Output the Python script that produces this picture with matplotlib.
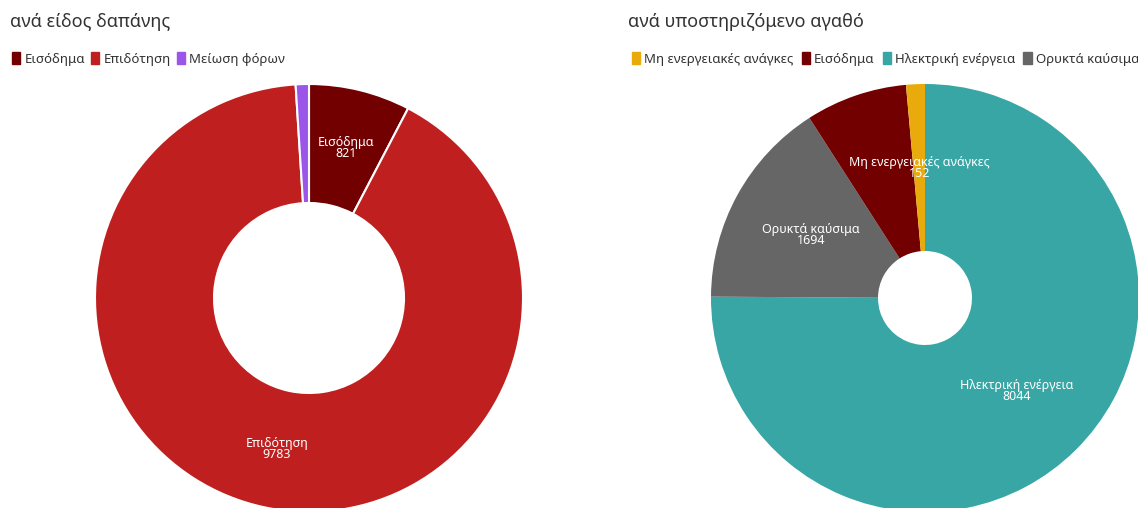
import numpy as np
import matplotlib.pyplot as plt
from matplotlib.patches import Patch

plt.rcParams['font.family'] = ['Noto Sans', 'DejaVu Sans']

# ανά είδος δαπάνης
cat_left = ['Εισόδημα', 'Επιδότηση', 'Μείωση φόρων']
val_left = [821, 9783, 107]
col_left = ['#730000', '#c01f1f', '#9b55e8']
show_left = [True, True, False]

# ανά υποστηριζόμενο αγαθό (σειρά σχεδίασης)
cat_right = ['Ηλεκτρική ενέργεια', 'Ορυκτά καύσιμα', 'Εισόδημα', 'Μη ενεργειακές ανάγκες']
val_right = [8044, 1694, 821, 152]
col_right = ['#38a6a5', '#666666', '#730000', '#e9ab0c']
show_right = [True, True, False, True]
legend_right = ['Μη ενεργειακές ανάγκες', 'Εισόδημα', 'Ηλεκτρική ενέργεια', 'Ορυκτά καύσιμα']

W, H = 1138, 508
fig = plt.figure(figsize=(W / 100, H / 100), dpi=100)


def donut(cx, cy, r, hole, cats, vals, cols, show, edge):
    ax = fig.add_axes([(cx - r) / W, (H - cy - r) / H, 2 * r / W, 2 * r / H])
    width = 1 - hole / r
    wedges, _ = ax.pie(vals, colors=cols, startangle=90, counterclock=False, radius=1,
                       wedgeprops=dict(width=width, edgecolor='white' if edge else 'none',
                                       linewidth=1.5 if edge else 0))
    rm = 1 - width / 2
    for w, c, v, s in zip(wedges, cats, vals, show):
        if not s:
            continue
        ang = np.deg2rad((w.theta1 + w.theta2) / 2)
        ax.text(rm * np.cos(ang), rm * np.sin(ang), f'{c}\n{v}', color='white',
                ha='center', va='center', fontsize=9, linespacing=0.8)
    ax.set_xlim(-1, 1)
    ax.set_ylim(-1, 1)
    ax.set_aspect('equal')
    ax.axis('off')


donut(309, 298, 214, 95, cat_left, val_left, col_left, show_left, True)
donut(925, 298, 214, 47, cat_right, val_right, col_right, show_right, False)

fig.text(10 / W, 1 - 22 / H, 'ανά είδος δαπάνης', fontsize=13, color='#333333', va='center')
fig.text(628 / W, 1 - 22 / H, 'ανά υποστηριζόμενο αγαθό', fontsize=13, color='#333333', va='center')

h_left = [Patch(facecolor=c, edgecolor=c, linewidth=1, joinstyle='round') for c in col_left]
fig.legend(h_left, cat_left, loc='center left', bbox_to_anchor=(0 / W, 1 - 59 / H), ncol=3,
           frameon=False, fontsize=9.5, handlelength=0.65, handleheight=1.0,
           handletextpad=0.3, columnspacing=0.45, labelcolor='#333333')

col_map = dict(zip(cat_right, col_right))
h_right = [Patch(facecolor=col_map[c], edgecolor=col_map[c], linewidth=1, joinstyle='round')
           for c in legend_right]
fig.legend(h_right, legend_right, loc='center left', bbox_to_anchor=(620 / W, 1 - 59 / H), ncol=4,
           frameon=False, fontsize=9.5, handlelength=0.65, handleheight=1.0,
           handletextpad=0.3, columnspacing=0.6, labelcolor='#333333')

fig.savefig('out.png', dpi=100)
